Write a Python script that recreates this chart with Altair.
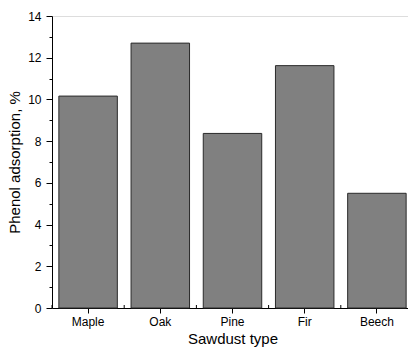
import altair as alt
import pandas as pd

types = ["Maple", "Oak", "Pine", "Fir", "Beech"]
values = [10.16, 12.70, 8.37, 11.62, 5.50]
boundaries = [0, 1, 2, 3, 4, 5]

df = pd.DataFrame({"type": types, "value": values})
bdf = pd.DataFrame({"b": boundaries})

FONT = "Liberation Sans"
W, H = 356, 292
RANGE = [0, 361]

bars = alt.Chart(df).mark_bar(
    color="#808080", stroke="#2a2a2a", strokeWidth=1
).encode(
    x=alt.X(
        "type:N", sort=types,
        scale=alt.Scale(range=RANGE, paddingInner=0.19, paddingOuter=0.095),
        axis=alt.Axis(
            title="Sawdust type", labelAngle=0, labelFont=FONT, labelFontSize=12,
            labelColor="black", titleFont=FONT, titleFontSize=15, titleFontWeight="normal",
            titleColor="black", domainColor="black", tickColor="black", tickSize=5,
            labelPadding=3, titlePadding=4,
        ),
    ),
    y=alt.Y(
        "value:Q",
        scale=alt.Scale(domain=[0, 14], nice=False),
        axis=alt.Axis(
            title="Phenol adsorption, %", values=list(range(15)),
            labelExpr="datum.value % 2 === 0 ? datum.label : ''",
            tickSize={"condition": {"test": "datum.value % 2 === 1", "value": 3}, "value": 6},
            labelFont=FONT, labelFontSize=12, labelColor="black",
            titleFont=FONT, titleFontSize=15, titleFontWeight="normal", titleColor="black",
            domainColor="black", tickColor="black", grid=False, labelPadding=5, titlePadding=5,
        ),
    ),
)

minor = alt.Chart(bdf).mark_rule(color="black", strokeWidth=1).encode(
    x=alt.X(
        "b:Q",
        scale=alt.Scale(domain=[0, 5], range=RANGE, nice=False, zero=False),
        axis=None,
    ),
    y=alt.value(H - 3),
    y2=alt.value(H),
)

chart = alt.layer(bars, minor).resolve_scale(x="independent").properties(
    width=W, height=H,
    autosize=alt.AutoSizeParams(type="none"),
    padding={"left": 52, "top": 16, "right": 0, "bottom": 45},
).configure_view(stroke=None).configure(background="white")

chart.save("out.html", embed_options={"renderer": "svg", "actions": False})
